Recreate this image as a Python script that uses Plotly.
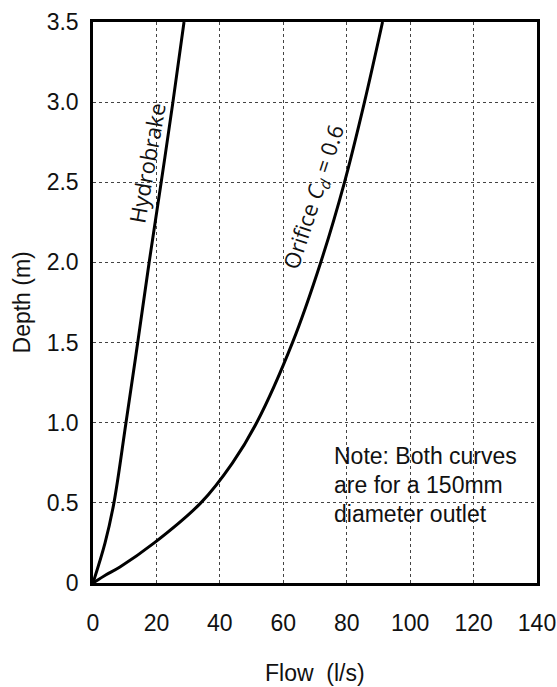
import plotly.graph_objects as go

# Data
hydro_depth = [0, 0.25, 0.5, 1.0, 1.5, 2.0, 2.5, 3.0, 3.5]
hydro_flow = [0, 3.8, 6.6, 10.4, 14.1, 17.7, 21.5, 25.2, 28.7]

orifice_depth = [0, 0.05, 0.1, 0.25, 0.5, 0.75, 1.0, 1.5, 2.0, 2.5, 3.0, 3.5]
orifice_flow = [0, 4.0, 8.5, 19.3, 34.0, 44.0, 51.6, 62.9, 71.8, 79.3, 85.6, 91.3]

x_ticks = [0, 20, 40, 60, 80, 100, 120, 140]
y_ticks = [0, 0.5, 1.0, 1.5, 2.0, 2.5, 3.0, 3.5]
y_ticktext = ["0", "0.5", "1.0", "1.5", "2.0", "2.5", "3.0", "3.5"]

note_lines = ["Note: Both curves", "are for a 150mm", "diameter outlet"]
note_depths = [0.79, 0.61, 0.43]

TICKFONT = dict(family="Liberation Sans, Arial, sans-serif", size=23, color="#111")
LABELFONT = dict(family="Open Sans, Noto Sans, sans-serif", size=22, color="#111")

fig = go.Figure()
fig.add_trace(go.Scatter(x=hydro_flow, y=hydro_depth, mode="lines",
                         line=dict(color="black", width=3, shape="spline", smoothing=1.0),
                         hoverinfo="skip", showlegend=False))
fig.add_trace(go.Scatter(x=orifice_flow, y=orifice_depth, mode="lines",
                         line=dict(color="black", width=3, shape="spline", smoothing=1.0),
                         hoverinfo="skip", showlegend=False))

fig.add_annotation(x=16.9, y=2.62, text="Hydrobrake", showarrow=False,
                   textangle=-80, font=LABELFONT, xanchor="center", yanchor="middle")
fig.add_annotation(x=69.8, y=2.41, text="Orifice <i>C<sub>d</sub></i> = 0.6", showarrow=False,
                   textangle=-72, font=LABELFONT, xanchor="center", yanchor="middle")

for txt, yy in zip(note_lines, note_depths):
    fig.add_annotation(x=75.5, y=yy, text=txt, showarrow=False, xanchor="left",
                       yanchor="middle", font=TICKFONT)

# axis titles
fig.add_annotation(x=0.5, y=-0.160, xref="paper", yref="paper", text="Flow\u00a0 (l/s)",
                   showarrow=False, xanchor="center", yanchor="middle", font=TICKFONT)
fig.add_annotation(x=-0.160, y=0.5, xref="paper", yref="paper", text="Depth (m)",
                   showarrow=False, xanchor="center", yanchor="middle", textangle=-90,
                   font=TICKFONT)

fig.update_layout(
    width=557, height=687,
    margin=dict(l=93, r=20, t=22, b=104, autoexpand=False),
    paper_bgcolor="white", plot_bgcolor="white",
    font=TICKFONT,
    xaxis=dict(range=[0, 140], tickvals=x_ticks, showgrid=True, gridcolor="#444",
               griddash="dot", gridwidth=1, zeroline=False, showline=True,
               linecolor="black", linewidth=2.5, mirror=True, ticks="",
               ticklabelstandoff=18, tickfont=TICKFONT, automargin=False),
    yaxis=dict(range=[0, 3.5], tickvals=y_ticks, ticktext=y_ticktext, showgrid=True,
               gridcolor="#444", griddash="dot", gridwidth=1, zeroline=False,
               showline=True, linecolor="black", linewidth=2.5, mirror=True, ticks="",
               ticklabelstandoff=7, tickfont=TICKFONT, automargin=False),
)

fig.write_html("out.html")
